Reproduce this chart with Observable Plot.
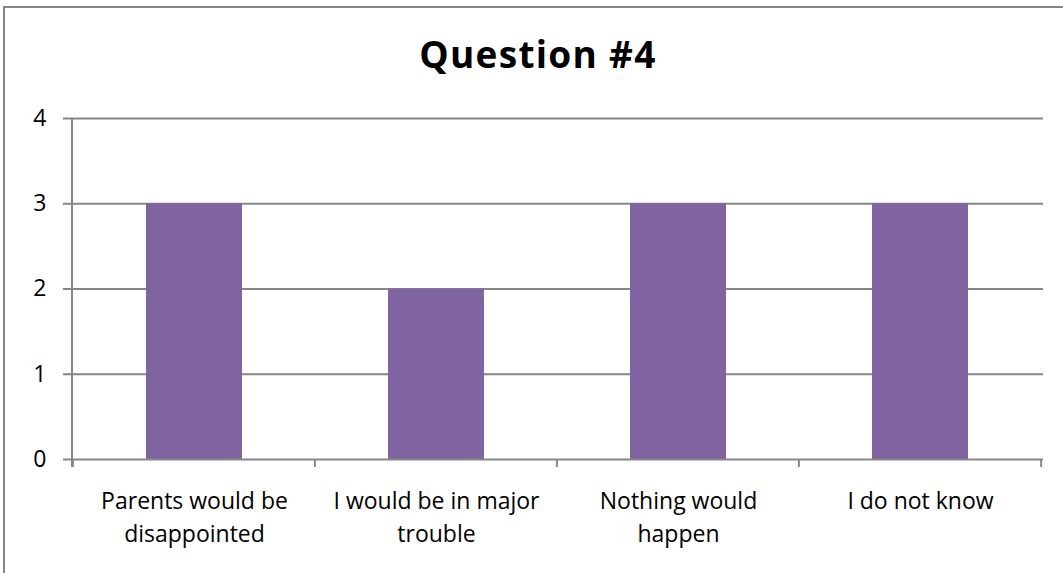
<!DOCTYPE html>
<html>
<head>
<meta charset="utf-8">
<script src="https://cdn.jsdelivr.net/npm/d3@7"></script>
<script src="https://cdn.jsdelivr.net/npm/@observablehq/plot@0.6"></script>
<style>
  html, body { margin: 0; padding: 0; background: #fff; }
  #chart { position: relative; width: 1063px; height: 573px; overflow: hidden; }
  #frame { position: absolute; left: 3px; top: 6px; width: 1080px; height: 600px; border: 2px solid #868686; box-sizing: border-box; pointer-events: none; }
  svg { font-family: "Open Sans", sans-serif; }
</style>
</head>
<body>
<div id="chart"><div id="frame"></div></div>
<script>
const title = "Question #4";
const categories = ["Parents would be\ndisappointed", "I would be in major\ntrouble", "Nothing would\nhappen", "I do not know"];
const values = [3, 2, 3, 3];
const yTicks = [0, 1, 2, 3, 4];

const data = categories.map((c, i) => ({category: c, value: values[i]}));

const W = 1063, H = 573;
const mL = 72, mR = 20, mT = 118, mB = 114;
const step = (W - mL - mR) / categories.length;
const pInner = 0.6025;
const gray = "#868686";

const plot = Plot.plot({
  width: W,
  height: H,
  marginLeft: mL,
  marginRight: mR,
  marginTop: mT,
  marginBottom: mB,
  style: {fontFamily: "Open Sans, sans-serif", background: "transparent", overflow: "visible"},
  x: {type: "band", domain: categories, paddingInner: pInner, paddingOuter: pInner / 2, axis: null},
  y: {domain: [0, 4], axis: null},
  marks: [
    Plot.ruleY(yTicks.filter(d => d > 0), {stroke: gray, strokeWidth: 2, strokeOpacity: 1}),
    Plot.barY(data, {x: "category", y: "value", fill: "#8064A2", inset: 0}),
    Plot.ruleY([0], {stroke: gray, strokeWidth: 2}),
    Plot.axisY({ticks: yTicks, tickSize: 9, tickPadding: 17, stroke: gray, strokeWidth: 2, fontSize: 23, fill: "#000", label: null, tickFormat: d => d}),
    Plot.axisX({tickSize: 0, tickPadding: 27, fontSize: 23, fill: "#000", label: null, lineHeight: 1.4})
  ]
});

// y axis line and category boundary ticks, positioned from the plot's own scales
const svg = d3.select(plot);
const xs = plot.scale("x"), ys = plot.scale("y");
const y0 = ys.apply(0), y4 = ys.apply(4);
const g = svg.append("g").attr("stroke", gray).attr("stroke-width", 2);
g.append("line").attr("x1", mL).attr("x2", mL).attr("y1", y4).attr("y2", y0 + 8);
const bounds = categories.map(c => xs.apply(c) - (step * pInner) / 2);
bounds.push(xs.apply(categories[categories.length - 1]) + xs.bandwidth + (step * pInner) / 2);
bounds.forEach(b => g.append("line").attr("x1", b).attr("x2", b).attr("y1", y0).attr("y2", y0 + 8));

svg.append("text")
  .attr("x", 538)
  .attr("y", 68)
  .attr("text-anchor", "middle")
  .attr("font-family", "Open Sans, sans-serif")
  .attr("font-weight", "bold")
  .attr("font-size", 37)
  .attr("letter-spacing", 1.3)
  .attr("fill", "#000")
  .text(title);

document.getElementById("chart").prepend(plot);
</script>
</body>
</html>
